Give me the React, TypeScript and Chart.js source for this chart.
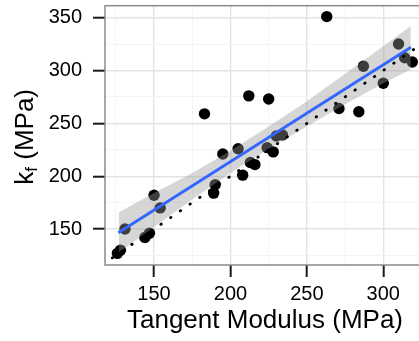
import React, { useEffect, useRef } from 'react';
import { Chart, registerables } from 'chart.js';

Chart.register(...registerables);

// Observed points: tangent modulus (x) vs k_f (y), MPa
const tangentModulus = [126, 128, 131, 144, 147, 150, 154, 183, 189, 190, 195, 205, 208, 212, 213, 216, 224, 225, 228, 230, 234, 263, 271, 284, 287, 300, 310, 314, 319];
const kf = [127, 130, 150, 142, 146, 182, 170, 259, 184, 192, 221, 226, 201, 276, 213, 211, 227, 273, 223, 238, 239, 351, 264, 261, 304, 288, 325, 312, 308];

// Linear fit line
const fitX = [126.6, 318.1];
const fitY = [146.5, 322];

// Confidence band
const bandX = [127, 150, 175, 200, 225, 250, 275, 300, 318];
const bandUpper = [166, 184, 203, 224, 247, 271, 297, 323, 342];
const bandLower = [128, 152, 178, 203, 226, 247, 268, 288, 301];

// 1:1 reference line
const refLine = [110, 335];

// Axes
const xTicks = [150, 200, 250, 300];
const yTicks = [150, 200, 250, 300, 350];
const xRange = [117.9, 327.3];
const yRange = [116.0, 361.3];

const FAMILY = "'Liberation Sans', Arial, Helvetica, sans-serif";
const MAJOR = '#e4e4e4';
const MINOR = '#f4f4f4';

const yTitlePlugin = {
  id: 'yTitle',
  afterDraw(chart: any) {
    const ctx = chart.ctx;
    const { top, bottom } = chart.chartArea;
    ctx.save();
    ctx.translate(33, (top + bottom) / 2 + 1.5);
    ctx.rotate(-Math.PI / 2);
    ctx.fillStyle = '#000';
    ctx.textBaseline = 'alphabetic';
    ctx.textAlign = 'left';
    const big = `26px ${FAMILY}`;
    const small = `17px ${FAMILY}`;
    ctx.font = big;
    const wk = ctx.measureText('k').width;
    const wr = ctx.measureText(' (MPa)').width;
    ctx.font = small;
    const wf = ctx.measureText('f').width;
    const total = wk + wf + wr;
    let x = -total / 2;
    ctx.font = big;
    ctx.fillText('k', x, 0);
    x += wk;
    ctx.font = small;
    ctx.fillText('f', x, 4);
    x += wf;
    ctx.font = big;
    ctx.fillText(' (MPa)', x, 0);
    ctx.restore();
  },
};

const borderPlugin = {
  id: 'panelBorder',
  afterDatasetsDraw(chart: any) {
    const { left, top, right, bottom } = chart.chartArea;
    const ctx = chart.ctx;
    ctx.save();
    ctx.strokeStyle = '#8a8a8a';
    ctx.lineWidth = 1.5;
    ctx.strokeRect(left, top, right - left, bottom - top);
    ctx.restore();
  },
};

export default function App() {
  const ref = useRef<HTMLCanvasElement | null>(null);

  useEffect(() => {
    if (!ref.current) return;
    const points = tangentModulus.map((x, i) => ({ x, y: kf[i] }));
    const fit = fitX.map((x, i) => ({ x, y: fitY[i] }));
    const upper = bandX.map((x, i) => ({ x, y: bandUpper[i] }));
    const lower = bandX.map((x, i) => ({ x, y: bandLower[i] }));
    const ref11 = refLine.map((v) => ({ x: v, y: v }));

    const chart = new Chart(ref.current, {
      type: 'scatter',
      data: {
        datasets: [
          {
            type: 'line',
            data: fit,
            borderColor: '#3366FF',
            borderWidth: 2.8,
            pointRadius: 0,
            fill: false,
            order: 0,
          } as any,
          {
            type: 'line',
            data: ref11,
            borderColor: '#000',
            borderWidth: 2.8,
            borderDash: [0.5, 11.3],
            borderCapStyle: 'round',
            pointRadius: 0,
            fill: false,
            order: 1,
          } as any,
          {
            type: 'line',
            data: upper,
            borderWidth: 0,
            borderColor: 'rgba(0,0,0,0)',
            pointRadius: 0,
            fill: '+1',
            backgroundColor: 'rgba(153,153,153,0.4)',
            order: 2,
          } as any,
          {
            type: 'line',
            data: lower,
            borderWidth: 0,
            borderColor: 'rgba(0,0,0,0)',
            pointRadius: 0,
            fill: false,
            order: 2,
          } as any,
          {
            type: 'scatter',
            data: points,
            backgroundColor: '#000',
            borderWidth: 0,
            pointRadius: 5.7,
            order: 3,
          } as any,
        ],
      },
      options: {
        animation: false,
        responsive: false,
        events: [],
        layout: { padding: { left: 0, right: 15, top: 5, bottom: 0 } },
        plugins: {
          legend: { display: false },
          tooltip: { enabled: false },
        },
        scales: {
          x: {
            type: 'linear',
            min: xRange[0],
            max: xRange[1],
            border: { display: false },
            grid: {
              color: (c: any) => (c.tick && c.tick.value % 50 === 0 ? MAJOR : MINOR),
              lineWidth: (c: any) => (c.tick && c.tick.value % 50 === 0 ? 1.4 : 1),
              tickColor: (c: any) => (c.tick && xTicks.includes(c.tick.value) ? '#1a1a1a' : 'rgba(0,0,0,0)'),
              tickWidth: 2,
              tickLength: 12,
              drawTicks: true,
            },
            ticks: {
              stepSize: 25,
              includeBounds: false,
              autoSkip: false,
              maxRotation: 0,
              padding: 5,
              color: '#000',
              font: { size: 20, family: FAMILY },
              callback: (v: any) => (xTicks.includes(Number(v)) ? String(v) : ''),
            },
            title: {
              display: true,
              text: 'Tangent Modulus (MPa)',
              color: '#000',
              font: { size: 26, family: FAMILY },
              padding: { top: 0, bottom: 5 },
            },
            afterFit: (s: any) => {
              s.height = 76;
              s.paddingLeft = 0;
              s.paddingRight = 0;
            },
          } as any,
          y: {
            type: 'linear',
            min: yRange[0],
            max: yRange[1],
            border: { display: false },
            grid: {
              color: (c: any) => (c.tick && c.tick.value % 50 === 0 ? MAJOR : MINOR),
              lineWidth: (c: any) => (c.tick && c.tick.value % 50 === 0 ? 1.4 : 1),
              tickColor: (c: any) => (c.tick && yTicks.includes(c.tick.value) ? '#1a1a1a' : 'rgba(0,0,0,0)'),
              tickWidth: 2,
              tickLength: 12,
              drawTicks: true,
            },
            ticks: {
              stepSize: 25,
              includeBounds: false,
              autoSkip: false,
              padding: 11,
              color: '#000',
              font: { size: 20, family: FAMILY },
              callback: (v: any) => (yTicks.includes(Number(v)) ? String(v) : ''),
            },
            afterFit: (s: any) => {
              s.width = 105;
              s.paddingTop = 0;
              s.paddingBottom = 0;
            },
          } as any,
        },
      },
      plugins: [yTitlePlugin, borderPlugin],
    });
    return () => chart.destroy();
  }, []);

  return (
    <div style={{ position: 'fixed', left: 0, top: 0, width: 419, height: 341, overflow: 'hidden', background: '#fff' }}>
      <canvas ref={ref} width={440} height={341} style={{ display: 'block', width: 440, height: 341 }} />
    </div>
  );
}
